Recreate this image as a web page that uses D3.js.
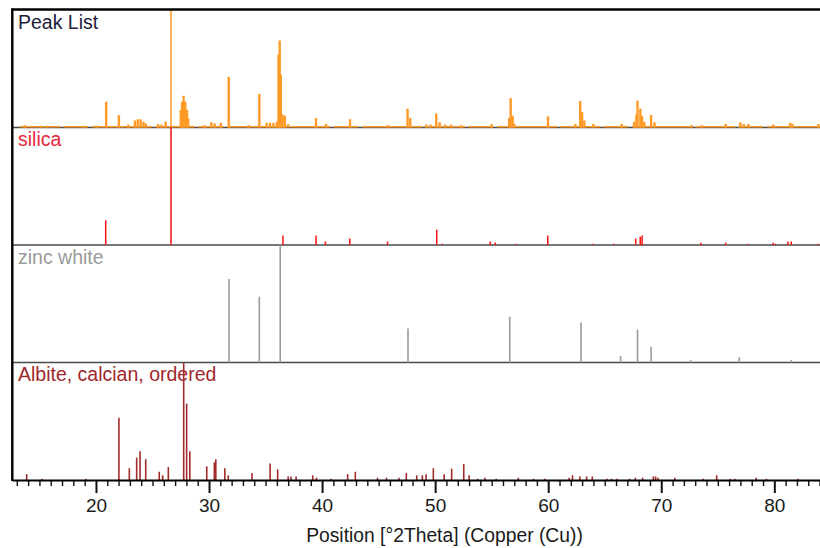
<!DOCTYPE html>
<html><head><meta charset="utf-8">
<script src="https://cdn.jsdelivr.net/npm/d3@7/dist/d3.min.js"></script>
<style>body{margin:0;background:#fff}svg{display:block}text{font-family:"Liberation Sans",Arial,sans-serif}</style>
</head><body><svg id="c" width="820" height="548"></svg>
<script>
// ---- data (position °2θ, relative intensity %) ----
const phaseNames = ["Peak List","silica","zinc white","Albite, calcian, ordered"];
const peakListPos = [13.7,15.1,15.7,18.9,20.06,20.9,22.03,22.86,23.45,23.7,23.95,24.2,24.4,25.5,25.8,26.16,26.64,27.5,27.62,27.75,27.9,28.05,28.15,29.6,30.2,30.5,31.05,31.74,33.5,34.45,35.1,35.4,35.7,36.0,36.15,36.25,36.35,36.5,36.7,37.0,39.46,40.35,42.47,45.85,47.56,47.8,49.2,49.6,50.1,50.4,50.9,51.4,52.3,55.0,56.55,56.68,56.86,57.0,59.98,62.4,62.83,63.0,63.2,64.0,66.5,67.6,67.8,67.9,68.15,68.3,68.5,69.1,69.4,72.7,73.6,75.7,77.0,77.3,77.7,79.9,81.4,81.6,83.9];
const peakListInt = [2,1.5,1.5,1.5,1.5,22,10.5,2.5,6,7,7,5,3.5,3,2.5,5,100,15,22,27,22,15,8,2,4.5,3.5,4,43,2,28.5,4,4,4,5,62,74,45,11,10,3,8,3,7,2,16,8,2.5,2.5,12,4.5,2.5,2.5,2,3,8,25,10,3,9.5,3,22.5,13,6,3,3,5,11,23,16,10,5,10.6,4.5,2,2,3,4.5,3,3,2.5,4,3,3];
const silicaPos = [20.86,26.64,36.54,39.47,40.29,42.45,45.79,50.14,50.62,54.87,55.32,57.2,59.96,64.0,65.8,67.74,68.14,68.31,73.5,75.7,77.7,79.9,80.1,81.2,81.5,83.9];
const silicaInt = [21,100,8,8,3,5.5,3,13,1,3,2,1,8,1,1,5.5,7,8,2,2,1,2,1,3,3,1];
const zincPos = [31.77,34.45,36.3,47.6,56.6,62.9,66.4,67.9,69.1,72.6,76.9,81.5];
const zincInt = [71,56,100,29,39,34,5.6,28,13.5,2,4.5,2];
const albitePos = [13.87,15.2,19.1,22.03,22.95,23.6,23.9,24.4,25.6,25.9,26.4,27.76,28.02,28.3,29.8,30.47,30.6,31.4,31.7,33.8,35.4,36.07,37.0,37.25,37.7,39.17,39.5,40.8,42.26,42.94,44.9,45.7,46.8,47.45,48.37,48.87,49.2,49.84,50.8,51.46,52.53,53.0,53.76,54.4,55.4,57.36,58.7,59.7,61.85,62.15,62.8,63.4,63.9,65.2,65.6,66.1,67.2,67.7,68.35,69.3,69.5,69.7,71.2,73.7,74.9,76.1,76.5,78.4,79.3,82.1];
const albiteInt = [5,1,1,53,10,19,24.5,17.7,7,4,11,100,65,24.5,11.6,15,17.7,10,4,6,14,9,3,3,3,4,2,1,5,7,2,2,2,6,4,4,5,10,5,9.6,13.6,4,1,2,1,2,1,1,2,4,3,3,3,1,1,1,1,2,2,3,3,2,2,1,4,1,1,2,1,1];
const majorTicks = [20,30,40,50,60,70,80];
const xDomain = [12.6, 84.04];

// ---- layout ----
(function () {
const svg = d3.select("#c");
const L = 12.3, R = 820, T = 10, panelH = 117.5;
const x = d3.scaleLinear().domain(xDomain).range([L, R]);
const phases = [
  {pos: peakListPos, int: peakListInt, color: "#ff9a26", label: "#20203c", w: 2.4},
  {pos: silicaPos, int: silicaInt, color: "#ff1010", label: "#e8283c", w: 1.5},
  {pos: zincPos, int: zincInt, color: "#9a9a9a", label: "#9a9a9a", w: 1.6},
  {pos: albitePos, int: albiteInt, color: "#a42a2a", label: "#a0282d", w: 1.6}
];
const B = T + 4 * panelH;

phases.forEach((p, i) => {
  const y0 = T + i * panelH, base = y0 + panelH;
  const y = d3.scaleLinear().domain([0, 100]).range([base, y0]);
  const g = svg.append("g");
  if (i < 3) g.append("line").attr("x1", L).attr("x2", R).attr("y1", base).attr("y2", base)
      .attr("stroke", "#4a4a4a").attr("stroke-width", 1.6);
  if (i === 0) g.append("line").attr("x1", x(13.3)).attr("x2", R).attr("y1", base - 0.8).attr("y2", base - 0.8)
      .attr("stroke", p.color).attr("stroke-width", 1.4).attr("stroke-dasharray", "40,3,25,4,60,3");
  g.selectAll("line.pk").data(d3.range(p.pos.length)).join("line").attr("class", "pk")
    .attr("x1", k => x(p.pos[k])).attr("x2", k => x(p.pos[k]))
    .attr("y1", base).attr("y2", k => y(p.int[k]))
    .attr("stroke", p.color).attr("stroke-width", k => (i === 0 && p.pos[k] === 26.64) ? 1.5 : p.w);
  g.append("text").attr("x", 18).attr("y", y0 + 18.5).attr("fill", p.label)
    .attr("font-size", 19.5).text(phaseNames[i]);
});

svg.append("line").attr("x1", L - 1).attr("x2", R).attr("y1", T - 0.5).attr("y2", T - 0.5)
  .attr("stroke", "#000").attr("stroke-width", 2.4);
svg.append("line").attr("x1", L).attr("x2", L).attr("y1", T - 1.5).attr("y2", B + 1)
  .attr("stroke", "#000").attr("stroke-width", 2.4);

const minor = d3.range(13, 85).filter(v => !majorTicks.includes(v));
const gMinor = svg.append("g").attr("transform", `translate(0,${B})`)
  .call(d3.axisBottom(x).tickValues(minor).tickSize(6).tickSizeOuter(0).tickFormat(""));
gMinor.selectAll(".tick line").attr("stroke", "#111").attr("stroke-width", 1.4);
gMinor.select(".domain").remove();
const gMajor = svg.append("g").attr("transform", `translate(0,${B})`)
  .call(d3.axisBottom(x).tickValues(majorTicks).tickSize(13).tickPadding(6).tickSizeOuter(0).tickFormat(d3.format("d")));
gMajor.selectAll(".tick line").attr("stroke", "#111").attr("stroke-width", 2);
gMajor.select(".domain").attr("stroke", "#000").attr("stroke-width", 2.2);
gMajor.selectAll(".tick text").attr("font-size", 19).attr("fill", "#1a1a1a")
  .style("font-family", '"Liberation Sans",Arial,sans-serif');
svg.append("text").attr("x", 444.5).attr("y", 541.5).attr("text-anchor", "middle")
  .attr("font-size", 19.3).attr("fill", "#1a1a1a").text("Position [°2Theta] (Copper (Cu))");
})();
</script></body></html>
